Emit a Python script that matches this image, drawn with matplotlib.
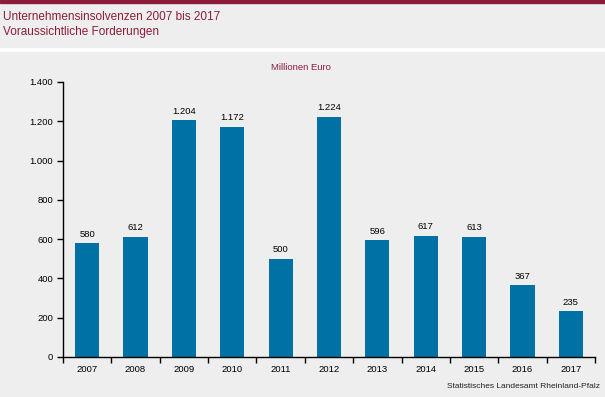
import numpy as np
import matplotlib.pyplot as plt

# Data
years = ['2007', '2008', '2009', '2010', '2011', '2012',
         '2013', '2014', '2015', '2016', '2017']
values = [580, 612, 1204, 1172, 500, 1224, 596, 617, 613, 367, 235]

bg = '#edeeed'
bar_col = '#0071a4'
red = '#8b1d3b'

plt.rcParams['font.family'] = ['Liberation Sans', 'DejaVu Sans']

fig = plt.figure(figsize=(6.05, 3.97), dpi=100)
fig.patch.set_facecolor('white')

# header band + red line on top, chart background below
W, H = 605, 397
fig.patches.append(plt.Rectangle((0, 1 - 47 / H), 1, 45 / H, transform=fig.transFigure,
                                 color=bg, zorder=-10))
fig.patches.append(plt.Rectangle((0, 1 - 2.5 / H), 1, 2.5 / H, transform=fig.transFigure,
                                 color=red, zorder=-10))
fig.patches.append(plt.Rectangle((0, 0), 1, 1 - 52 / H, transform=fig.transFigure,
                                 color=bg, zorder=-10))

fig.text(3 / W, 1 - 17 / H, 'Unternehmensinsolvenzen 2007 bis 2017',
         color=red, fontsize=8.5, va='center', ha='left')
fig.text(3 / W, 1 - 32 / H, 'Voraussichtliche Forderungen',
         color=red, fontsize=8.5, va='center', ha='left')

ax = fig.add_axes([63 / W, 40 / H, 532 / W, 275 / H])
ax.set_facecolor(bg)

x = np.arange(len(years))
ax.bar(x, values, width=0.5, color=bar_col, zorder=2)
for xi, v in zip(x, values):
    ax.text(xi, v + 22, f'{v:,}'.replace(',', '.'), ha='center', va='bottom',
            fontsize=6.8, color='black')

ax.set_xlim(-0.5, len(years) - 0.5)
ax.set_ylim(0, 1400)
yt = np.arange(0, 1401, 200)
ax.set_yticks(yt)
ax.set_yticklabels([f'{v:,}'.replace(',', '.') for v in yt], fontsize=6.8)
ax.set_xticks(np.arange(-0.5, len(years), 1))
ax.set_xticklabels([])
ax.set_xticks(x, minor=True)
ax.set_xticklabels(years, minor=True, fontsize=6.8)
ax.tick_params(axis='x', which='minor', length=0, pad=6)
ax.tick_params(axis='x', which='major', direction='out', length=4, width=1)
ax.tick_params(axis='y', direction='out', length=4, width=1, pad=3)

for s in ['top', 'right']:
    ax.spines[s].set_visible(False)
ax.spines['left'].set_linewidth(1)
ax.spines['bottom'].set_linewidth(1)

fig.text(301 / W, 1 - 67 / H, 'Millionen Euro', color=red, fontsize=6.8,
         ha='center', va='center')
fig.text(600 / W, 1 - 386 / H, 'Statistisches Landesamt Rheinland-Pfalz',
         fontsize=6, ha='right', va='center', color='#222222')

fig.savefig('out.png', dpi=100, facecolor=fig.get_facecolor())
